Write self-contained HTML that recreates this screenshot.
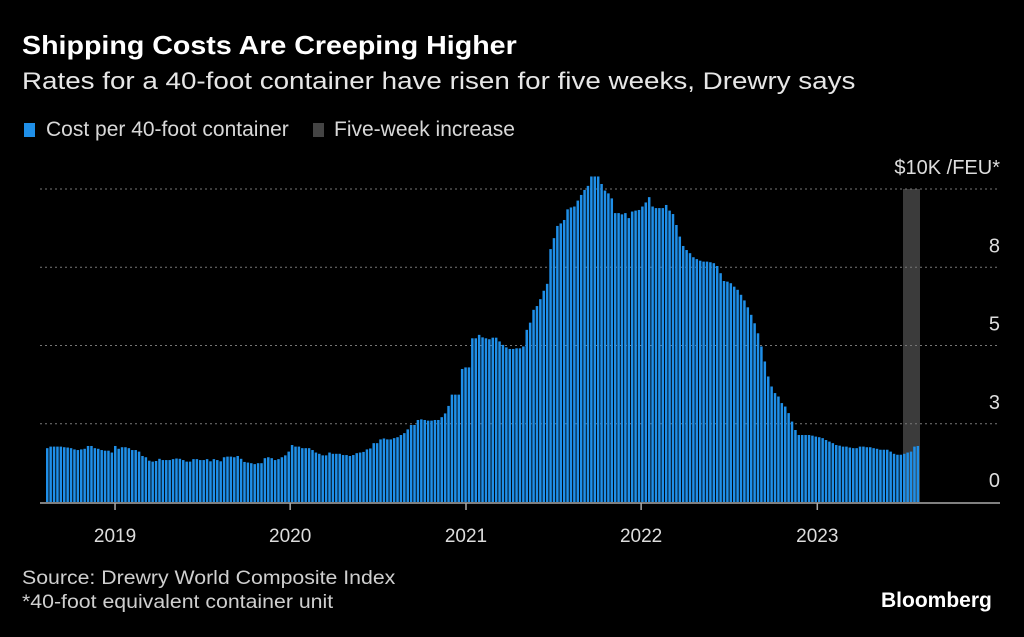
<!DOCTYPE html>
<html><head><meta charset="utf-8"><style>
body{margin:0;background:#000;width:1024px;height:637px;overflow:hidden;font-family:"Liberation Sans",sans-serif;color:#fff}
.t{position:absolute;white-space:nowrap;transform-origin:0 0}
</style></head><body>
<div class="t" style="left:22px;top:30px;font-size:26px;font-weight:bold;transform:scaleX(1.1)">Shipping Costs Are Creeping Higher</div>
<div class="t" style="left:22px;top:68px;font-size:24px;color:#e6e6e6;transform:scaleX(1.157)">Rates for a 40-foot container have risen for five weeks, Drewry says</div>
<div style="position:absolute;left:24px;top:123px;width:11px;height:14px;background:#1f8fe8"></div>
<div class="t" style="left:46px;top:118px;font-size:21px;color:#d8d8d8">Cost per 40-foot container</div>
<div style="position:absolute;left:313px;top:123px;width:11px;height:14px;background:#444"></div>
<div class="t" style="left:334px;top:118px;font-size:21px;color:#d8d8d8">Five-week increase</div>
<svg id="c" width="1024" height="637" style="position:absolute;left:0;top:0"></svg>
<div class="t" style="left:22px;top:568px;font-size:19px;color:#cfcfcf;transform:scaleX(1.12)">Source: Drewry World Composite Index</div>
<div class="t" style="left:22px;top:592px;font-size:19px;color:#cfcfcf;transform:scaleX(1.12)">*40-foot equivalent container unit</div>
<div class="t" style="left:881px;top:589px;font-size:21px;font-weight:bold">Bloomberg</div>
<script>
const values=[1.72,1.77,1.77,1.77,1.77,1.75,1.74,1.72,1.68,1.66,
1.68,1.70,1.79,1.79,1.72,1.70,1.66,1.64,1.64,1.58,
1.79,1.70,1.75,1.75,1.72,1.66,1.66,1.61,1.47,1.43,
1.32,1.29,1.31,1.38,1.34,1.34,1.34,1.37,1.39,1.38,
1.34,1.29,1.29,1.37,1.37,1.34,1.34,1.37,1.30,1.37,
1.34,1.30,1.43,1.45,1.45,1.43,1.47,1.38,1.28,1.26,
1.24,1.21,1.24,1.24,1.40,1.43,1.40,1.34,1.37,1.43,
1.49,1.61,1.82,1.77,1.77,1.72,1.72,1.72,1.66,1.58,
1.54,1.49,1.49,1.58,1.54,1.54,1.54,1.50,1.50,1.47,
1.50,1.56,1.58,1.60,1.68,1.71,1.88,1.88,2.0,2.03,
2.0,2.0,2.04,2.07,2.14,2.2,2.32,2.46,2.46,2.62,
2.64,2.62,2.6,2.6,2.62,2.62,2.71,2.83,3.07,3.43,
3.43,3.43,4.25,4.3,4.3,
5.23,5.23,5.34,5.26,5.23,5.2,5.25,5.25,5.13,5.02,4.94,4.89,4.89,4.91,4.91,4.97,
5.5,5.73,6.14,6.26,6.48,6.75,6.97,8.08,8.43,8.82,8.9,9.01,9.35,9.41,9.44,9.63,9.81,9.97,10.1,10.4,
10.4,10.4,10.16,9.95,9.86,9.7,9.23,9.23,9.19,9.23,9.07,9.28,9.31,9.33,9.44,9.57,9.74,9.44,9.39,9.39,
9.39,9.49,9.31,9.2,8.85,8.48,8.18,8.05,7.95,7.82,7.76,7.71,7.68,
7.68,7.66,7.63,7.54,7.31,7.06,7.04,6.99,6.88,6.78,6.62,6.44,6.22,5.98,5.71,5.39,4.97,4.49,4.01,3.69,
3.48,3.37,3.16,3.05,2.84,2.57,2.3,2.14,2.14,2.14,2.14,2.12,2.09,2.07,2.04,1.98,1.93,1.88,1.82,1.80,
1.77,1.77,1.74,1.72,1.72,1.77,1.77,1.75,1.75,1.72,1.70,1.67,1.67,1.67,1.61,1.54,1.51,1.51,1.54,1.58,1.61,1.77,1.79];
const gridValues=[0,2.5,5,7.5,10];
const gridLabels=["0","3","5","8","$10K /FEU*"];
const years=["2019","2020","2021","2022","2023"];
const yearIndex=[20.3,71.8,123.5,175.0,226.8];
const highlightWeeks=5;
const svg=document.getElementById('c');const NS='http://www.w3.org/2000/svg';
const x0=46,x1=920,y0=502,y1=189,vmax=10;
const pitch=(x1-x0)/values.length;
const X=i=>x0+i*pitch;
const Y=v=>y0-(v/vmax)*(y0-y1);
function mk(t,a){const e=document.createElementNS(NS,t);for(const k in a)e.setAttribute(k,a[k]);svg.appendChild(e);return e;}
const hl=mk('rect',{x:X(values.length-highlightWeeks),y:Y(10),width:x1-X(values.length-highlightWeeks),height:Y(0)-Y(10),fill:'#3b3b3b'});


gridValues.forEach((g,i)=>{
 if(g>0){const l=mk('line',{x1:40,x2:1000,y1:Y(g),y2:Y(g),stroke:'#777','stroke-dasharray':'2,3','stroke-width':1});
 
 }
 const t=mk('text',{x:1000,y:Y(g)-15,'text-anchor':'end',fill:'#ddd','font-size':20,'font-family':'Liberation Sans, sans-serif'});
 t.textContent=gridLabels[i];
 
 
});
values.forEach((v,i)=>{
 const r=mk('rect',{x:X(i),y:Y(v),width:pitch-0.9,height:Y(0)-Y(v),fill:'#1f8fe8'});
 
 
});
const ax=mk('line',{x1:40,x2:1000,y1:503,y2:503,stroke:'#aaa','stroke-width':1.5});


years.forEach((y,i)=>{
 const xx=X(yearIndex[i]);
 const tk=mk('line',{x1:xx,x2:xx,y1:503,y2:510,stroke:'#aaa','stroke-width':1.5});
 
 
 const t=mk('text',{x:xx,y:542,'text-anchor':'middle',fill:'#ddd','font-size':19,'font-family':'Liberation Sans, sans-serif'});
 t.textContent=y;
 
 
});
</script>
</body></html>
